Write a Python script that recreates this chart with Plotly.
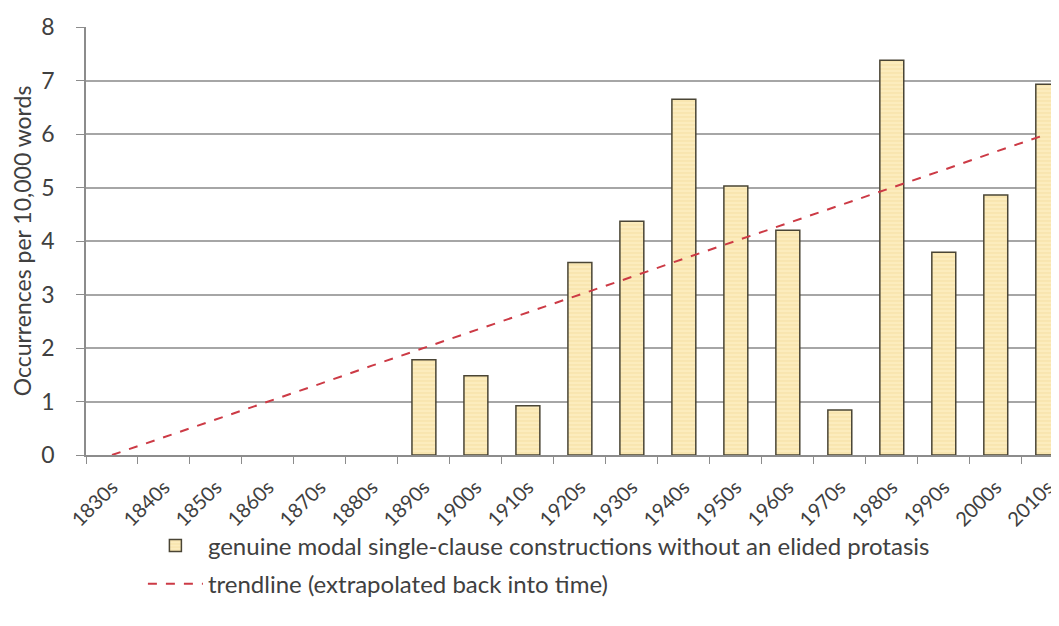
import plotly.graph_objects as go

decades = ["1830s", "1840s", "1850s", "1860s", "1870s", "1880s", "1890s", "1900s", "1910s",
           "1920s", "1930s", "1940s", "1950s", "1960s", "1970s", "1980s", "1990s", "2000s", "2010s"]
occurrences = [0, 0, 0, 0, 0, 0, 1.78, 1.48, 0.92, 3.6, 4.37, 6.65, 5.03, 4.2, 0.84, 7.38, 3.79, 4.86, 6.93]
trend = [0.0, 0.33, 0.67, 1.0, 1.33, 1.67, 2.0, 2.33, 2.67, 3.0, 3.33, 3.67, 4.0, 4.33, 4.67, 5.0, 5.33, 5.67, 6.0]
y_ticks = [0, 1, 2, 3, 4, 5, 6, 7, 8]

bar_name = "genuine modal single-clause constructions without an elided protasis"
trend_name = "trendline (extrapolated back into time)"

fig = go.Figure()
fig.add_trace(go.Bar(
    x=decades, y=[v if v > 0 else None for v in occurrences], name=bar_name,
    width=0.46,
    marker=dict(color="#fbe9b4", line=dict(color="#4a4535", width=1.5),
                pattern=dict(shape="-", fgcolor="#f0d590", bgcolor="#fcecbd", size=4, solidity=0.3)),
    legend="legend",
))
fig.add_trace(go.Scatter(
    x=decades, y=trend, name=trend_name, mode="lines",
    line=dict(color="#cc3a45", width=2, dash="dash"),
    legend="legend2",
))

font_family = "Lato, Open Sans, sans-serif"
fig.update_layout(
    width=1059, height=626,
    margin=dict(l=78, r=0, t=19, b=179),
    plot_bgcolor="white", paper_bgcolor="white",
    font=dict(family=font_family, size=20, color="#404040"),
    showlegend=True,
    legend=dict(x=0.058, y=-0.16, xanchor="left", yanchor="top", itemwidth=55,
                font=dict(size=24, color="#404040"), bgcolor="rgba(0,0,0,0)", itemclick=False),
    legend2=dict(x=0.058, y=-0.249, xanchor="left", yanchor="top", itemwidth=55,
                 font=dict(size=24, color="#404040"), bgcolor="rgba(0,0,0,0)", itemclick=False),
    xaxis=dict(
        type="category", range=[-0.5, 18.37],
        tickangle=-45, ticks="outside", ticklen=7, tickcolor="#8c8c8c", tickson="boundaries",
        ticklabelstandoff=11,
        showline=True, linecolor="#8c8c8c", linewidth=1.5,
        showgrid=False, tickfont=dict(size=20, color="#404040"),
    ),
    yaxis=dict(
        range=[0, 8], tickvals=y_ticks, ticks="outside", ticklen=8, tickcolor="#8c8c8c",
        ticklabelstandoff=17,
        showline=True, linecolor="#8c8c8c", linewidth=1.5,
        showgrid=True, gridcolor="#a6a6a6", gridwidth=1.5,
        zeroline=False,
        title=dict(text="Occurrences per 10,000 words", font=dict(size=23, color="#404040"), standoff=4),
        tickfont=dict(size=23, color="#404040"),
    ),
)

fig.write_html("out.html")
